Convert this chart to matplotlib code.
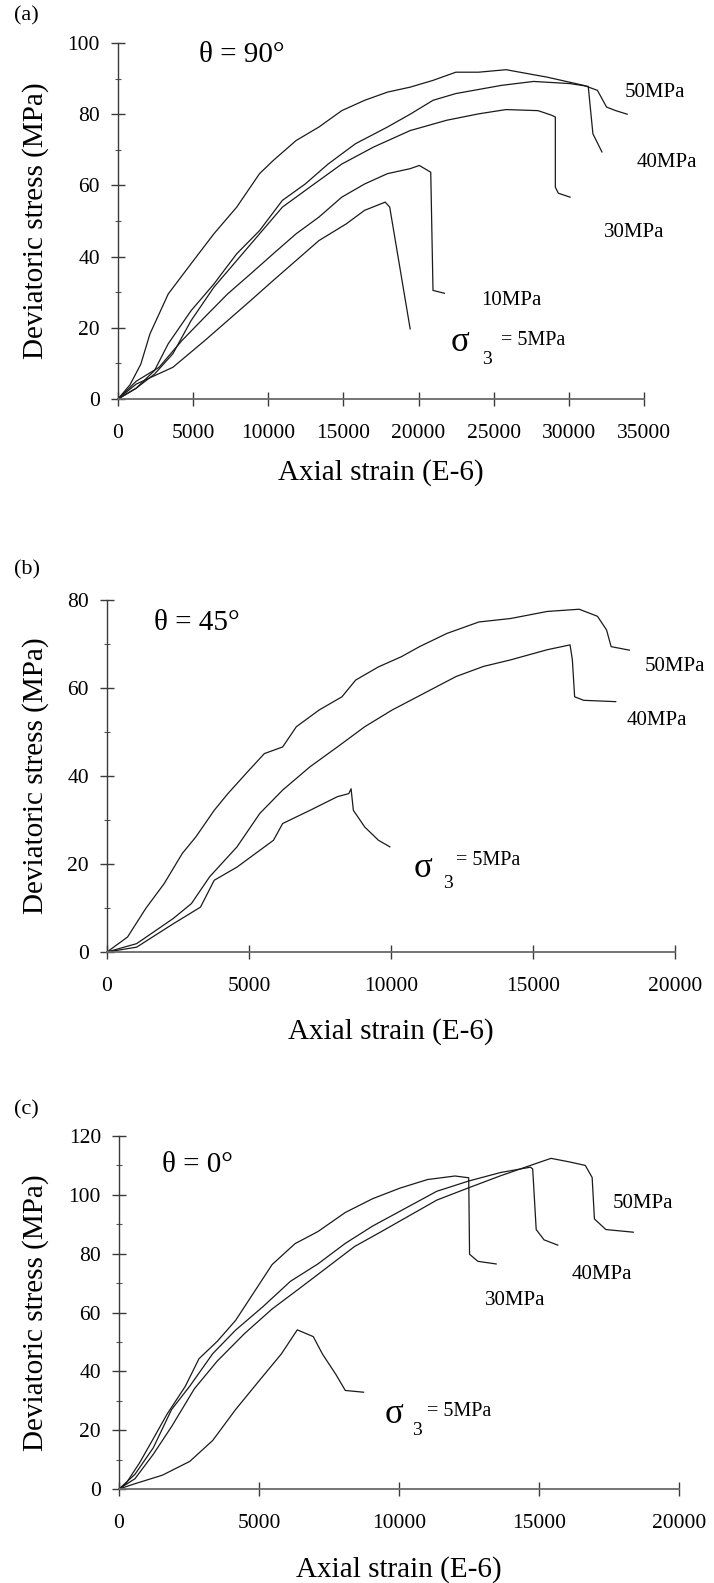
import numpy as np
import matplotlib
matplotlib.use("Agg")
import matplotlib.pyplot as plt
from matplotlib.ticker import MultipleLocator

plt.rcParams['font.family'] = 'Liberation Serif'

# ---------------- (a) theta = 90 deg ----------------
strain_a_50 = [0, 800, 1519, 2127, 3342, 4861, 6380, 7900, 9418, 10330, 11850, 13370, 14890,
               16410, 17930, 19440, 20960, 22480, 24000, 25820, 28560, 30990, 31900, 32510, 33120, 33880]
stress_a_50 = [0, 4, 9.8, 18.3, 29.5, 38, 46.4, 53.9, 63.3, 67, 72.6, 76.4, 81,
               83.9, 86.2, 87.6, 89.5, 91.8, 91.8, 92.5, 90.4, 88.1, 86.7, 82, 81, 80]
strain_a_40 = [0, 1200, 2430, 3340, 4860, 6380, 7900, 9420, 10940, 12460, 13980, 15800, 17930,
               19440, 20960, 22480, 25520, 27650, 30080, 31290, 31600, 32200]
stress_a_40 = [0, 3, 8, 15.5, 24.8, 32.3, 40.8, 47.3, 55.8, 60.4, 66, 71.7, 76.4,
               80, 83.9, 85.8, 88.1, 89.2, 88.6, 87.8, 74.5, 69.4]
strain_a_30 = [0, 1200, 2430, 3650, 4860, 6380, 7900, 9420, 10940, 12760, 14890, 17020, 19440,
               21870, 24000, 25820, 27950, 28860, 29100, 29100, 29300, 30080]
stress_a_30 = [0, 3, 7, 12.7, 22, 31.4, 38.9, 46.4, 53.9, 59.5, 66, 70.8, 75.4,
               78.3, 80.1, 81.3, 81, 79.7, 79.2, 59.5, 57.8, 56.7]
strain_a_10 = [0, 1215, 2730, 4250, 5770, 7290, 8810, 10330, 11850, 13370, 14890, 16410, 17930,
               19440, 20050, 20810, 20960, 21720]
stress_a_10 = [0, 5, 8.9, 16.4, 23, 29.5, 35.1, 40.8, 46.4, 51.1, 56.7, 60.4, 63.3,
               64.7, 65.6, 63.7, 30.5, 29.7]
strain_a_5 = [0, 1215, 3650, 5770, 7290, 8810, 10330, 11850, 13370, 15190, 16410, 17780, 18080, 19440]
stress_a_5 = [0, 4.2, 8.9, 16.4, 22, 27.6, 33.3, 38.9, 44.5, 49.2, 53, 55.3, 53.9, 19.7]

# ---------------- (b) theta = 45 deg ----------------
strain_b_50 = [0, 723, 1365, 2008, 2651, 3133, 3775, 4257, 4900, 5542, 6185, 6667, 7470, 8273,
               8755, 9558, 10361, 11004, 11968, 13092, 14217, 15502, 16627, 17269, 17590, 17751, 18394]
stress_b_50 = [0, 3.4, 9.9, 15.5, 22.4, 26.2, 32.2, 36, 40.6, 45.1, 46.6, 51.2, 55, 58,
               61.8, 64.8, 67.1, 69.4, 72.4, 75, 75.8, 77.4, 77.9, 76.3, 73.2, 69.4, 68.6]
strain_b_40 = [0, 1044, 2329, 2972, 3614, 4578, 5381, 6185, 7149, 8112, 9076, 10040, 11165,
               12289, 13253, 14217, 15502, 16305, 16386, 16466, 16787, 17912]
stress_b_40 = [0, 1.9, 7.6, 11, 17.1, 23.9, 31.5, 36.8, 42.1, 46.6, 51.2, 55, 58.8,
               62.6, 64.9, 66.4, 68.7, 69.8, 66.4, 58, 57.2, 56.9]
strain_b_5 = [0, 1044, 2329, 3293, 3775, 4578, 5863, 6185, 7149, 8112, 8514, 8594, 8675, 9076, 9558, 9960]
stress_b_5 = [0, 1.1, 6.4, 10.2, 16.3, 19.3, 25.4, 29.2, 32.2, 35.3, 36, 37.1, 32.2, 28.4, 25.4, 23.9]

# ---------------- (c) theta = 0 deg ----------------
strain_c_30 = [0, 245, 735, 1224, 1714, 2367, 2857, 3510, 4163, 4816, 5469, 6286, 7102, 8082,
               9061, 10041, 11020, 12000, 12490, 12520, 12816, 13470]
stress_c_30 = [0, 1.8, 8.9, 17.1, 25.4, 34.9, 44.3, 50.2, 57.3, 66.8, 76.3, 83.4, 87.5, 94,
               98.7, 102.3, 105.2, 106.4, 105.8, 79.8, 77.4, 76.5]
strain_c_40 = [0, 571, 1224, 1877, 2530, 3347, 4163, 5143, 6122, 7102, 8082, 9061, 10204,
               11347, 12490, 13633, 14694, 14775, 14900, 15180, 15670]
stress_c_40 = [0, 5, 14, 27, 35, 46, 54, 62, 70.6, 76.5, 83.5, 89.4, 95.3,
               101.2, 104.7, 107.6, 109.4, 108.8, 88.2, 84.7, 82.9]
strain_c_50 = [0, 571, 1224, 1877, 2694, 3510, 4490, 5469, 6449, 7429, 8408, 9388, 10367, 11347,
               12490, 13633, 14694, 15429, 16082, 16653, 16898, 16980, 17388, 18367]
stress_c_50 = [0, 3.5, 11.8, 21.2, 34.1, 43.5, 52.9, 61.2, 68.2, 75.3, 82.4, 87.6, 92.9, 98.2,
               102.4, 106.5, 110, 112.4, 111.2, 110, 105.9, 91.8, 88.2, 87.3]
strain_c_5 = [0, 571, 1551, 2530, 3347, 4163, 4980, 5796, 6367, 6939, 7265, 7755, 8082, 8735]
stress_c_5 = [0, 1.8, 4.7, 9.4, 16.5, 27, 36.5, 45.9, 54.1, 51.8, 45.9, 38.8, 33.5, 32.9]

W, H = 714, 1583
fig = plt.figure(figsize=(W / 100, H / 100), dpi=100)


def add_axes(left, right, top, bottom):
    return fig.add_axes([left / W, 1 - bottom / H, (right - left) / W, (bottom - top) / H])


def style(ax, xmax, ymax, xstep, ystep, left, right, top, bottom, xlabel_y, ylabel_x):
    ax.set_xlim(0, xmax)
    ax.set_ylim(0, ymax)
    ax.patch.set_alpha(0)
    for s in ('top', 'right'):
        ax.spines[s].set_visible(False)
    ax.spines['left'].set_color('#3a3a3a')
    ax.spines['left'].set_linewidth(1.0)
    ax.spines['bottom'].set_color('#6a6a6a')
    ax.spines['bottom'].set_linewidth(1.3)
    ax.set_xticks(np.arange(0, xmax + 1, xstep))
    ax.set_yticks(np.arange(0, ymax + 1, ystep))
    ax.yaxis.set_minor_locator(MultipleLocator(ystep / 2))
    ax.tick_params(which='major', direction='inout', length=10, width=1.0,
                   color='#3a3a3a', labelsize=15.5)
    ax.tick_params(axis='x', pad=13)
    ax.tick_params(axis='y', pad=8)
    ax.tick_params(axis='y', which='minor', direction='inout', length=4, width=0.8, color='#555555')
    ax.set_xlabel('Axial strain (E-6)', fontsize=21)
    ax.set_ylabel('Deviatoric stress (MPa)', fontsize=21)
    w, h = right - left, bottom - top
    ax.xaxis.set_label_coords(0.5, -(xlabel_y - bottom) / h)
    ax.xaxis.label.set_va('center')
    ax.yaxis.set_label_coords(-(left - ylabel_x) / w, 0.5)
    ax.yaxis.label.set_va('center')


def curve(ax, x, y):
    ax.plot(x, y, color='#1a1a1a', lw=0.9, clip_on=False)


def note(ax, x, y, s, size=15):
    ax.text(x, y, s, fontsize=size, ha='left', va='center', clip_on=False)


def sigma_label(ax, xs, ys, x3, y3, xe, ye):
    note(ax, xs, ys, 'σ', 25)
    note(ax, x3, y3, '3', 14)
    note(ax, xe, ye, '= 5MPa', 14.5)


# panel (a)
ax_a = add_axes(118, 644, 43, 399)
style(ax_a, 35000, 100, 5000, 20, 118, 644, 43, 399, 473, 36)
for x, y in ((strain_a_50, stress_a_50), (strain_a_40, stress_a_40), (strain_a_30, stress_a_30),
             (strain_a_10, stress_a_10), (strain_a_5, stress_a_5)):
    curve(ax_a, x, y)
note(ax_a, 5400, 96.5, 'θ = 90°', 21)
note(ax_a, 33720, 86.2, '50MPa')
note(ax_a, 34480, 66.5, '40MPa')
note(ax_a, 32360, 46.9, '30MPa')
note(ax_a, 24150, 27.6, '10MPa')
sigma_label(ax_a, 22100, 16.0, 24200, 11.0, 25500, 16.4)
fig.text(14 / W, 1 - 16 / H, '(a)', fontsize=16, ha='left', va='center')

# panel (b)
ax_b = add_axes(107, 675, 600, 952)
style(ax_b, 20000, 80, 5000, 20, 107, 675, 600, 952, 1032, 36)
for x, y in ((strain_b_50, stress_b_50), (strain_b_40, stress_b_40), (strain_b_5, stress_b_5)):
    curve(ax_b, x, y)
note(ax_b, 1650, 74.7, 'θ = 45°', 21)
note(ax_b, 18950, 64.8, '50MPa')
note(ax_b, 18310, 52.7, '40MPa')
sigma_label(ax_b, 10800, 19.0, 11850, 15.5, 12300, 20.8)
fig.text(14 / W, 1 - 570 / H, '(b)', fontsize=16, ha='left', va='center')

# panel (c)
ax_c = add_axes(119, 679, 1136, 1489)
style(ax_c, 20000, 120, 5000, 20, 119, 679, 1136, 1489, 1570, 36)
for x, y in ((strain_c_30, stress_c_30), (strain_c_40, stress_c_40), (strain_c_50, stress_c_50),
             (strain_c_5, stress_c_5)):
    curve(ax_c, x, y)
note(ax_c, 1550, 110, 'θ = 0°', 21)
note(ax_c, 17630, 97, '50MPa')
note(ax_c, 16160, 72.9, '40MPa')
note(ax_c, 13060, 64.1, '30MPa')
sigma_label(ax_c, 9500, 25.3, 10450, 20.0, 11000, 26.5)
fig.text(14 / W, 1 - 1110 / H, '(c)', fontsize=16, ha='left', va='center')

fig.savefig('out.png', dpi=100)
